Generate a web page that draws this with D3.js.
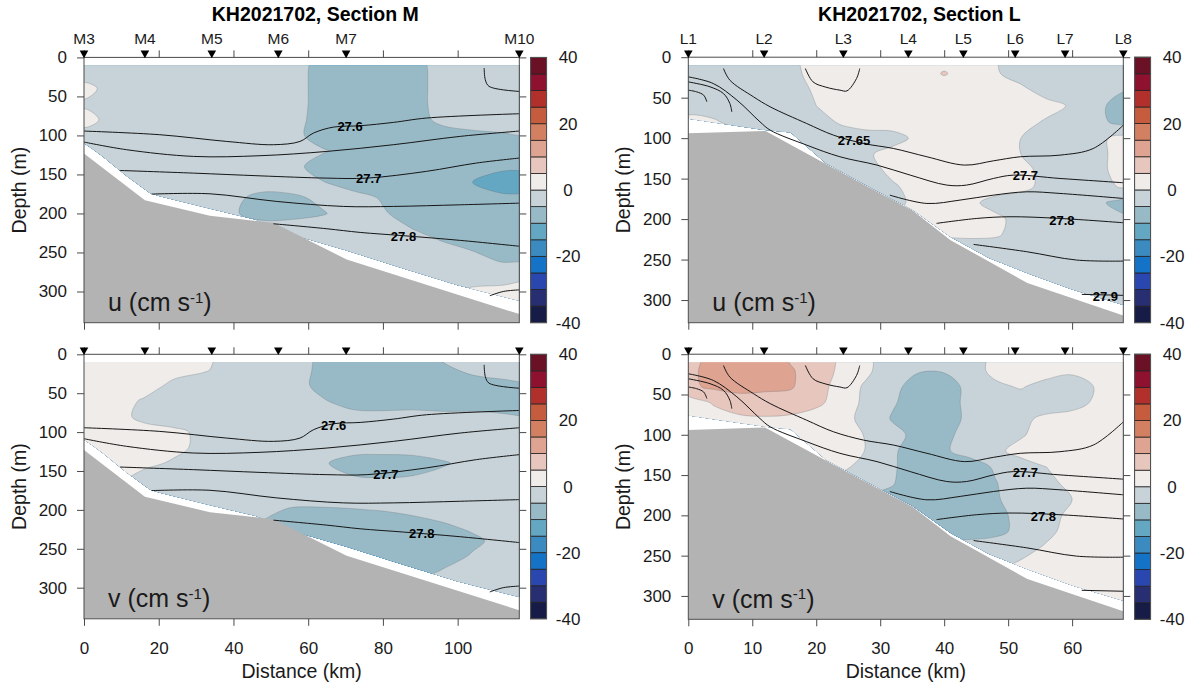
<!DOCTYPE html>
<html><head><meta charset="utf-8">
<script src="https://cdn.jsdelivr.net/npm/d3@7"></script>
<style>
body{margin:0;background:#fff;}
text{font-family:'Liberation Sans',Arial,Helvetica,sans-serif;fill:#1a1a1a;}
</style>
</head><body>
<svg id="c" width="1192" height="684"></svg>
<script>
// ---------------- DATA ----------------
const bandEdges = [-40,-35,-30,-25,-20,-15,-10,-5,0,5,10,15,20,25,30,35];
const bandColors = ['#171c47','#272e72','#2a47b0','#1473c6','#3b8ac0','#64a7c3','#98bac7','#c7d3d8',
                    '#f0ecea','#e6c6bd','#dea391','#d38062','#c65c3e','#b1302c','#8e1230','#6a1126'];
const cbTicks = [-40,-20,0,20,40];
const yTicks = [0,50,100,150,200,250,300];
const mXTicks = [0,20,40,60,80,100];
const lXTicks = [0,10,20,30,40,50,60];

const mStations = ['M3','M4','M5','M6','M7','M10'];
const mStationKm = [0,16.3,34.2,52.0,70.15,116.5];
const lStations = ['L1','L2','L3','L4','L5','L6','L7','L8'];
const lStationKm = [0,11.85,24.24,34.4,43.0,51.1,58.9,68.0];

// grid coordinates of the velocity sections
const mGridKm = [0,8,16,24,32,40,48,56,64,72,80,88,96,104,112,120];
const lGridKm = [0,4,8,12,16,20,24,28,32,36,40,44,48,52,56,60,64,68];
const gridDepth = [0,20,40,60,80,100,120,140,160,180,200,220,240,260,280,300,320,340];

// Section M, u (cm/s), rows = depth, cols = distance
const uM = [
 [-2.5,-2.5,-2.5,-2.5,-2.5,-2.5,-2.5,-2.5,-7.5,-7.5,-7.5,-7.5,-2.5,-2.5,-2.5,-2.5],
 [-3,-2.5,-2.5,-2.5,-2.5,-2.5,-2.5,-2.5,-7.5,-7.5,-7.5,-7.5,-2.5,-2.5,-2.5,-2.5],
 [2,-2.5,-2.5,-2.5,-2.5,-2.5,-2.5,-2.5,-7.5,-7.5,-7.5,-7.5,-2.5,-2.5,-2.5,-2.5],
 [-1,-2.5,-2.5,-2.5,-2.5,-2.5,-2.5,-2.5,-7.5,-7.5,-7.5,-7.5,-2.5,-2.5,-2.5,-2.5],
 [2.5,-2.5,-2.5,-2.5,-2.5,-2.5,-2.5,-3,-7.5,-7.5,-7.5,-7.5,-3.5,-3,-2.5,-2.5],
 [-2.5,-2.5,-2.5,-2.5,-2.5,-2.5,-2.5,-3.5,-7.5,-7.5,-7.5,-7.5,-7.5,-6,-5.5,-4.5],
 [-2.5,-2.5,-2.5,-2.5,-2.5,-2.5,-2.5,-2.5,-4.5,-7,-7.5,-7.5,-7.5,-7.5,-7.5,-7.5],
 [-2.5,-2.5,-2.5,-2.5,-2.5,-2.5,-2.5,-3.5,-7.5,-7.5,-7.5,-7.5,-7.5,-8,-9,-9],
 [-2.5,-2.5,-2.5,-2.5,-2.5,-2.5,-2.5,-2.5,-4.8,-7.5,-7.5,-7.5,-8,-10,-12.5,-13],
 [-2.5,-2.5,-2.5,-2.5,-2.5,-4,-6.5,-5.8,-4,-3,-5.5,-7.5,-7.5,-8,-9,-9],
 [-2.5,-2.5,-2.5,-2.5,-2.5,-4.5,-7,-6.5,-5.3,-3,-4.5,-7,-7.5,-7.5,-7.5,-7.5],
 [-2.5,-2.5,-2.5,-2.5,-2.5,-2.5,-2.5,-2.5,-2.5,-2.5,-3.5,-5,-7,-7.5,-7.5,-7.5],
 [-2.5,-2.5,-2.5,-2.5,-2.5,-2.5,-2.5,-2.5,-2.5,-2.5,-2.5,-3,-4.5,-6,-7,-7.5],
 [-2.5,-2.5,-2.5,-2.5,-2.5,-2.5,-2.5,-2.5,-2.5,-2.5,-2.5,-2.5,-2.5,-3.5,-5.5,-6],
 [-2.5,-2.5,-2.5,-2.5,-2.5,-2.5,-2.5,-2.5,-2.5,-2.5,-2.5,-2.5,-2.5,-2.5,-1.5,-0.5],
 [-2.5,-2.5,-2.5,-2.5,-2.5,-2.5,-2.5,-2.5,-2.5,-2.5,-2.5,-2.5,-1,1,1,1],
 [-2.5,-2.5,-2.5,-2.5,-2.5,-2.5,-2.5,-2.5,-2.5,-2.5,-2.5,-2.5,-1,1,1,1],
 [-2.5,-2.5,-2.5,-2.5,-2.5,-2.5,-2.5,-2.5,-2.5,-2.5,-2.5,-2.5,-1,1,1,1]
];
// Section M, v (cm/s)
const vM = [
 [2,2,2,2,1,-2,-2.5,-2.5,-6.5,-7.5,-7.5,-7.5,-4,-2.5,-2.5,-2.5],
 [2,2,2,1.5,0.5,-2,-2.5,-2.5,-6.5,-7.5,-7.5,-7.5,-6,-4,-3.5,-3.5],
 [2,2,2,-1,-2.5,-2.5,-2.5,-2.5,-7,-7.5,-7.5,-7.5,-7.5,-7,-6,-5.5],
 [2,2,-0.5,-2.5,-2.5,-2.5,-2.5,-2.5,-4.5,-7.5,-7.5,-7,-7,-7,-7,-7],
 [2,1.5,-1,-2.5,-2.5,-2.5,-2.5,-2.5,-2.5,-3,-3.5,-3.5,-4,-4,-4.5,-5.2],
 [2,2,1.5,1,-1,-2.5,-2.5,-2.5,-2.5,-2.5,-2.5,-2.5,-2.5,-2.5,-2.5,-2.5],
 [2,2,2,1,-1,-2.5,-2.5,-2.5,-2.5,-3,-3,-3,-2.5,-2.5,-2.5,-2.5],
 [2,2,1,-0.5,-2.5,-2.5,-2.5,-2.5,-4.5,-7,-7.5,-7,-5.5,-3.5,-2.5,-2.5],
 [2,1,-1.5,-2.5,-2.5,-2.5,-2.5,-2.5,-3,-4.5,-4.8,-4.5,-3.5,-2.5,-2.5,-2.5],
 [-2.5,-2.5,-2.5,-2.5,-2.5,-2.5,-2.5,-2.5,-2.5,-2.5,-2.5,-2.5,-2.5,-2.5,-2.5,-2.5],
 [-2.5,-2.5,-2.5,-2.5,-2.5,-2.5,-4,-5.5,-5.5,-5.2,-4.8,-3.8,-3,-2.5,-2.5,-2.5],
 [-2.5,-2.5,-2.5,-2.5,-2.5,-2.5,-5.5,-7.5,-7.5,-7.5,-7.5,-7,-5.5,-4,-3,-2.5],
 [-2.5,-2.5,-2.5,-2.5,-2.5,-2.5,-6,-7.5,-7.5,-7.5,-7.5,-7.5,-7.5,-6,-3.5,-2.5],
 [-2.5,-2.5,-2.5,-2.5,-2.5,-2.5,-6,-7.5,-7.5,-7.5,-7.5,-7.5,-7,-4.5,-2.5,-2.5],
 [-2.5,-2.5,-2.5,-2.5,-2.5,-2.5,-6,-7.5,-7.5,-7,-7,-7,-4.5,-2.5,-2.5,-2.5],
 [-2.5,-2.5,-2.5,-2.5,-2.5,-2.5,-2.5,-2.5,-2.5,-2.5,-2.5,-2.5,-2.5,-2.5,-2.5,-2.5],
 [-2.5,-2.5,-2.5,-2.5,-2.5,-2.5,-2.5,-2.5,-2.5,-2.5,-2.5,-2.5,-2.5,-2.5,-2.5,-2.5],
 [-2.5,-2.5,-2.5,-2.5,-2.5,-2.5,-2.5,-2.5,-2.5,-2.5,-2.5,-2.5,-2.5,-2.5,-2.5,-2.5]
];
// Section L, u (cm/s)
const uL = [
 [-2,-2,-2,-2,-1,1.5,2,2,2,2,2,2,0.2,-2,-2,-2,-2,-2],
 [-2,-2,-2,-2,-1.2,1.5,2,2,2,2,5.5,2,0.5,-2,-2,-2,-2,-2],
 [-2,-2,-2,-2,-1.5,0.5,2,2,2,2,2,2,2,1,-2,-2.5,-3.5,-4.5],
 [-2,-2,-2,-2,-1.5,0,2,2,2,2,2,2,2,2,1.5,-0.5,-3.5,-8],
 [1.5,0.5,-1.5,-2,-2,-1.5,0.5,2,2,2,2,2,2,1.5,-0.5,-2,-3.5,-7],
 [2,2,1.5,0,-2,-2,-2,-2,-1.5,1,2,2,1.5,0,-2,-2,-1,1.5],
 [-2,-2,-2,-2,-2,-2,-2,-0.5,1.5,2,2,2,1.5,0,-2,-2,-1,1.5],
 [-2,-2,-2,-2,-2,-2,-2,-1.5,1,2,2,2,2,1,-1,-2,-1,1.5],
 [-2,-2,-2,-2,-2,-2,-2,-2,-0.5,1.5,2,2,2,1,-1,-2,-1.5,0.5],
 [-2,-2,-2,-2,-2,-2,-2,-2,-1,1,2,1,-1.5,-2,-2,-2.5,-4,-7],
 [1,1,1,1,1,1,1,1,1,1.5,2,2,1,-1.5,-2,-2,-2.5,-4],
 [0.3,0.3,0.3,0.3,0.3,0.3,0.3,0.3,0.3,0.3,0.3,0.5,0.3,-1,-2,-2,-2,-2],
 [-2,-2,-2,-2,-2,-2,-2,-2,-2,-2,-2,-2,-2,-2,-2,-2,-2,-2],
 [-2,-2,-2,-2,-2,-2,-2,-2,-2,-2,-2,-2,-2,-2,-2,-2,-2,-2],
 [-2,-2,-2,-2,-2,-2,-2,-2,-2,-2,-2,-2,-2,-2,-2,-2,-2,-2],
 [-2,-2,-2,-2,-2,-2,-2,-2,-2,-2,-2,-2,-2,-2,-2,-2,-2,-2],
 [-2,-2,-2,-2,-2,-2,-2,-2,-2,-2,-2,-2,-2,-2,-2,-2,-2,-2],
 [-2,-2,-2,-2,-2,-2,-2,-2,-2,-2,-2,-2,-2,-2,-2,-2,-2,-2]
];
// Section L, v (cm/s)
const vL = [
 [8,11,12.5,12.5,9,7.5,4,1,-4,-4,-4,-3,1,2.5,2.5,2.5,2.5,2.5],
 [9,11.5,12.5,12.5,10.5,7.5,4,1,-4,-4.5,-4.5,-2.5,1.5,2.5,2.5,1,2.5,2.5],
 [9,11,11.5,11,10.5,7,3,-1,-3.5,-7.5,-7.5,-3.5,-1,0.5,-2,-2.5,0.5,1.5],
 [2.5,5.5,8,8,8,6.5,2,-1,-4.5,-7.5,-7.5,-3.5,-2.5,-2.5,-2.5,-2,1,2.5],
 [2.5,3,4,4.5,4,2,1.5,-1.5,-5.5,-7.5,-7,-4,-2.5,-1,1,2,2.5,2.5],
 [2.5,2.5,2.5,2.5,2.5,2.5,2.5,-0.5,-3.5,-6.5,-6,-3.5,-2.5,-0.5,2,2.5,2.5,2.5],
 [2.5,2.5,2.5,2.5,2.5,1.5,1.5,-0.2,-4.5,-7,-5.5,-3.5,-1,1.5,2.5,2.5,2.5,2.5],
 [2.5,2.5,2.5,2.5,2.5,2.5,1,-2,-4.5,-7.5,-7.5,-7,-4.5,-2,0,2,2.5,2.5],
 [-2.5,-2.5,-2.5,-2.5,-2.5,-2.5,-2.5,-3,-4.8,-7.5,-7.5,-7.5,-5.2,-3,-1,1,2.5,2.5],
 [-6,-6,-6,-6,-6,-6,-6,-6,-6,-7.5,-7.5,-7.5,-5.5,-3,-1.5,0,2.5,2.5],
 [-7,-7,-7,-7,-7,-7,-7,-7,-7,-7.5,-7.5,-7.5,-6,-4,-1.5,1,2.5,2.5],
 [-7,-7,-7,-7,-7,-7,-7,-7,-7,-7,-7.5,-7,-6,-4,-1,1.5,2.5,2.5],
 [-3,-3,-3,-3,-3,-3,-3,-3,-3,-3,-3,-3,-3,-1.5,0.5,2.5,2.5,2.5],
 [-1,-1,-1,-1,-1,-1,-1,-1,-1,-1,-1,-1,-1,0.5,2.5,2.5,2.5,2.5],
 [2.5,2.5,2.5,2.5,2.5,2.5,2.5,2.5,2.5,2.5,2.5,2.5,2.5,2.5,2.5,2.5,2.5,2.5],
 [2.5,2.5,2.5,2.5,2.5,2.5,2.5,2.5,2.5,2.5,2.5,2.5,2.5,2.5,2.5,2.5,2.5,2.5],
 [2.5,2.5,2.5,2.5,2.5,2.5,2.5,2.5,2.5,2.5,2.5,2.5,2.5,2.5,2.5,2.5,2.5,2.5],
 [2.5,2.5,2.5,2.5,2.5,2.5,2.5,2.5,2.5,2.5,2.5,2.5,2.5,2.5,2.5,2.5,2.5,2.5]
];

// bathymetry and data coverage
const mBottomKm = [0,16.3,33.7,50.7,70.3,116.5];
const mBottomDepth = [123,183,203,212,259,329];
const mDataKm = [0,2.5,5,11.4,17.7,20.3,34.6,46,57,70,85,100,116.5];
const mDataDepth = [110,118,127,152,174,178,195,208,229,247,270,292,312];
const lBottomKm = [0,12,21.5,29,35,41,53,68];
const lBottomDepth = [94,91,132,164,189,226,279,319];
const lDataKm = [0,5,12,16,21.5,29,35,41,47,53,60,68];
const lDataDepth = [76,82,90,93,131,163,188,222,248,267,287,306];
const dataTop = 10;

// isopycnals [km, depth]
const mIsopycnals = [
 [[0,94.4],[20.3,99.1],[38.2,107.7],[50.7,111.9],[57.8,107.7],[61.4,97],[66.8,89.3],[73.9,87.6],[82.8,83.3],[91.7,77.7],[116.5,72.2]],
 [[0,108.5],[11.4,118.3],[29.3,126.9],[47.1,126],[65,120.5],[82.8,111.9],[100.7,101.2],[116.5,94.4]],
 [[9.6,144.9],[29.3,148.3],[47.1,151.8],[65,154.7],[75.7,154.7],[91.7,146],[105,135.4],[116.5,129]],
 [[18.1,175.2],[33.7,174.8],[51.6,184.6],[69.4,191],[82.8,191],[100.7,188.9],[116.5,186.8]],
 [[50.7,213.2],[65,219.6],[73.9,224.3],[85.5,228.5],[100.7,234.5],[116.5,242]],
 [[108.6,305.5],[112.2,300],[116.5,297.9]],
 [[107.1,13.6],[107.4,28.6],[108.4,37.1],[116.5,43.6]]
];
const lIsopycnals = [
 [[0,40.7],[1.3,42.8],[2.4,46.9],[2.9,55]],
 [[0,30.5],[3.4,36.6],[5.5,44.9],[6.5,57.2],[6.8,67.5]],
 [[0,24.3],[3.9,32.5],[7.6,53],[11.2,79.8],[12.8,90.1],[18.5,108.6],[23.7,123],[29.5,133.3],[34.7,145.7],[40.4,158],[43.5,158],[47.7,149.8],[50.8,145.7],[58.1,149.8],[68,155.1]],
 [[5.5,14],[6.5,28.4],[10.2,49],[12.8,61.3],[18.5,81.9],[22.7,96.3],[27.4,106.6],[32.1,112.8],[37.3,123],[43.2,133.3],[47.7,128],[51.9,123],[58.1,121],[63.3,112.8],[68,84]],
 [[31.5,170.4],[37.3,180.7],[42.5,176.5],[47.7,170.4],[52.9,166.3],[58.1,168.3],[68,174.5]],
 [[38.8,205.3],[45.1,199.2],[50.3,197.1],[58.1,199.2],[68,204.5]],
 [[44.6,231.3],[52.9,240.3],[60.7,250.6],[68,251.9]],
 [[61.5,293],[68,294.2]],
 [[18.3,14],[19.5,30.5],[21.5,37],[23.7,40.7],[24.8,41.6],[26.3,26.3],[26.8,14]]
];
// contour labels
const uMLabelText = ['27.6','27.7','27.8'], uMLabelKm = [71.2,76.2,85.5], uMLabelDepth = [88,154.7,229];
const vMLabelText = ['27.6','27.7','27.8'], vMLabelKm = [66.8,80.8,90.4], vMLabelDepth = [91.5,153.9,229.5];
const uLLabelText = ['27.65','27.7','27.8','27.9'], uLLabelKm = [25.9,52.7,58.4,65.2], uLLabelDepth = [102.5,145.7,201.3,295];
const vLLabelText = ['27.7','27.8'], vLLabelKm = [52.7,55.5], vLLabelDepth = [146,200.6];

// ---------------- DRAW ----------------
const svg = d3.select('#c');
const panels = [
 {id:'a', comp:'u', grid:uM, gKm:mGridKm, x0:84, x1:519.3, y0:57.4, y1:322.7, xDom:[0,116.5], yDom:[0,340],
  bKm:mBottomKm, bD:mBottomDepth, dKm:mDataKm, dD:mDataDepth, iso:mIsopycnals, xt:mXTicks,
  lt:uMLabelText, lk:uMLabelKm, ld:uMLabelDepth, st:mStations, sk:mStationKm, title:'KH2021702, Section M', top:true},
 {id:'b', comp:'v', grid:vM, gKm:mGridKm, x0:84, x1:519.3, y0:354.3, y1:618.8, xDom:[0,116.5], yDom:[0,340],
  bKm:mBottomKm, bD:mBottomDepth, dKm:mDataKm, dD:mDataDepth, iso:mIsopycnals, xt:mXTicks,
  lt:vMLabelText, lk:vMLabelKm, ld:vMLabelDepth, st:mStations, sk:mStationKm, top:false},
 {id:'c', comp:'u', grid:uL, gKm:lGridKm, x0:688.3, x1:1123.3, y0:57.2, y1:322.7, xDom:[0,68], yDom:[0,328],
  bKm:lBottomKm, bD:lBottomDepth, dKm:lDataKm, dD:lDataDepth, iso:lIsopycnals, xt:lXTicks,
  lt:uLLabelText, lk:uLLabelKm, ld:uLLabelDepth, st:lStations, sk:lStationKm, title:'KH2021702, Section L', top:true},
 {id:'d', comp:'v', grid:vL, gKm:lGridKm, x0:688.3, x1:1123.3, y0:354.2, y1:619.3, xDom:[0,68], yDom:[0,329],
  bKm:lBottomKm, bD:lBottomDepth, dKm:lDataKm, dD:lDataDepth, iso:lIsopycnals, xt:lXTicks,
  lt:vLLabelText, lk:vLLabelKm, ld:vLLabelDepth, st:lStations, sk:lStationKm, top:false}
];
const defs = svg.append('defs');
const axisCol = '#4a4a4a';

panels.forEach(p => {
  const xS = d3.scaleLinear().domain(p.xDom).range([p.x0, p.x1]);
  const yS = d3.scaleLinear().domain(p.yDom).range([p.y0, p.y1]);
  const g = svg.append('g');

  // clip paths
  const region = [[p.xDom[0], dataTop],[p.xDom[1], dataTop]]
     .concat(p.dKm.map((k,i)=>[k, p.dD[i]]).reverse())
     .map(([k,d]) => [xS(k), yS(d)]);
  defs.append('clipPath').attr('id','data'+p.id).append('path').attr('d', 'M'+region.join('L')+'Z');
  defs.append('clipPath').attr('id','plot'+p.id).append('rect')
     .attr('x',p.x0).attr('y',p.y0).attr('width',p.x1-p.x0).attr('height',p.y1-p.y0);

  // filled velocity contours
  const nx = p.gKm.length, ny = gridDepth.length;
  const flat = [].concat(...p.grid);
  const dk = p.gKm[1]-p.gKm[0], dz = gridDepth[1]-gridDepth[0];
  const conts = d3.contours().size([nx, ny]).thresholds(bandEdges)(flat);
  const ring = d3.line().curve(d3.curveCatmullRomClosed.alpha(0.5));
  const fg = g.append('g').attr('clip-path','url(#data'+p.id+')');
  conts.forEach((c, k) => {
    if (!c.coordinates.length) return;
    let dstr = '';
    c.coordinates.forEach(poly => poly.forEach(r => {
      const pts = r.slice(0,-1).map(([a,b]) => [xS(p.gKm[0] + (a-0.5)*dk), yS(gridDepth[0] + (b-0.5)*dz)]);
      dstr += ring(pts);
    }));
    fg.append('path').attr('d', dstr).attr('fill', bandColors[k]).attr('fill-rule','evenodd')
      .attr('stroke', k === 0 ? 'none' : 'rgba(95,105,110,0.4)').attr('stroke-width', 0.7);
  });

  // sea floor
  const floor = [[p.xDom[0], p.yDom[1]]].concat(p.bKm.map((k,i)=>[k,p.bD[i]])).concat([[p.xDom[1], p.yDom[1]]])
     .map(([k,d]) => [xS(k), yS(d)]);
  g.append('path').attr('d','M'+floor.join('L')+'Z').attr('fill','#b3b3b3').attr('clip-path','url(#plot'+p.id+')');

  // isopycnals
  const isoLine = d3.line().x(d=>xS(d[0])).y(d=>yS(d[1])).curve(d3.curveCatmullRom.alpha(0.5));
  const ig = g.append('g').attr('clip-path','url(#plot'+p.id+')');
  p.iso.forEach(l => ig.append('path').attr('d', isoLine(l)).attr('fill','none').attr('stroke','#161616').attr('stroke-width',1));
  p.lt.forEach((t,i) => g.append('text').attr('x', xS(p.lk[i])).attr('y', yS(p.ld[i])).attr('dy','0.36em')
     .attr('text-anchor','middle').attr('font-size',13).attr('font-weight','bold').style('fill','#000').text(t));

  // axes
  const ax = (axis, tx, ty) => {
    const a = g.append('g').attr('transform',`translate(${tx},${ty})`).call(axis);
    a.select('.domain').remove();
    a.selectAll('line').attr('stroke', axisCol);
    a.selectAll('text').attr('font-size',17).style('fill','#1a1a1a').attr('font-family',"'Liberation Sans',Arial,sans-serif");
    return a;
  };
  ax(d3.axisLeft(yS).tickValues(yTicks).tickSize(7).tickPadding(10), p.x0, 0);
  ax(d3.axisRight(yS).tickValues(yTicks).tickSize(7).tickFormat(''), p.x1, 0);
  ax(d3.axisTop(xS).tickValues(p.xt).tickSize(7).tickFormat(''), 0, p.y0);
  if (p.top) ax(d3.axisBottom(xS).tickValues(p.xt).tickSize(7).tickFormat(''), 0, p.y1);
  else ax(d3.axisBottom(xS).tickValues(p.xt).tickSize(7).tickPadding(16), 0, p.y1);
  g.append('rect').attr('x',p.x0).attr('y',p.y0).attr('width',p.x1-p.x0).attr('height',p.y1-p.y0)
    .attr('fill','none').attr('stroke',axisCol).attr('stroke-width',1);

  // stations
  p.sk.forEach((k,i) => {
    const x = xS(k);
    g.append('path').attr('d',`M${x-4.3},${p.y0-6.8}L${x+4.3},${p.y0-6.8}L${x},${p.y0+0.8}Z`).attr('fill','#000');
    if (p.top) g.append('text').attr('x',x).attr('y',p.y0-13.5).attr('text-anchor','middle').attr('font-size',15.5).text(p.st[i]);
  });

  // component label
  const lab = g.append('text').attr('x', p.x0+24).attr('y', p.y1-11.5).attr('font-size',25);
  lab.append('tspan').text(p.comp + ' (cm s');
  lab.append('tspan').attr('font-size',15).attr('dy',-8.5).text('-1');
  lab.append('tspan').attr('dy',8.5).text(')');

  // y label
  g.append('text').attr('transform',`translate(${p.x0-58},${(p.y0+p.y1)/2}) rotate(-90)`)
    .attr('text-anchor','middle').attr('font-size',19.5).text('Depth (m)');
  if (!p.top) g.append('text').attr('x',(p.x0+p.x1)/2).attr('y',678).attr('text-anchor','middle').attr('font-size',19.5).text('Distance (km)');

  // colorbar
  const cx = p.x1 + 11.3, cw = 16;
  const cS = d3.scaleLinear().domain([-40,40]).range([p.y1, p.y0]);
  const cg = g.append('g');
  bandEdges.forEach((b,k) => {
    cg.append('rect').attr('x',cx).attr('y',cS(b+5)).attr('width',cw).attr('height',cS(b)-cS(b+5))
      .attr('fill',bandColors[k]).attr('stroke','#222').attr('stroke-width',0.8);
  });
  cg.append('rect').attr('x',cx).attr('y',p.y0).attr('width',cw).attr('height',p.y1-p.y0).attr('fill','none').attr('stroke','#555').attr('stroke-width',1);
  cbTicks.forEach(t => cg.append('text').attr('x',cx+cw+21.5).attr('y',cS(t)).attr('dy','0.35em')
     .attr('text-anchor','middle').attr('font-size',17).text(t));

  if (p.title) g.append('text').attr('x',(p.x0+cx+cw)/2).attr('y',21).attr('text-anchor','middle')
     .attr('font-size',19.5).attr('font-weight','bold').style('fill','#000').text(p.title);
});
</script>
</body></html>
